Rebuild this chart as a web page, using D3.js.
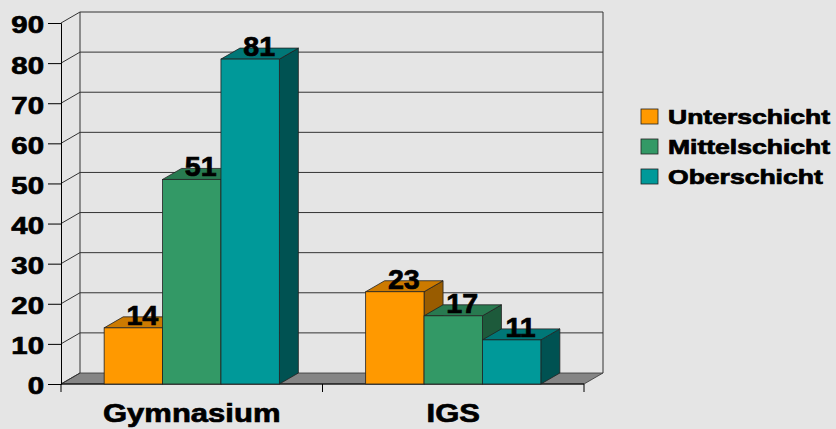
<!DOCTYPE html>
<html>
<head>
<meta charset="utf-8">
<script src="https://cdn.jsdelivr.net/npm/d3@7"></script>
<style>
  body { margin: 0; background: #e5e5e5; }
  svg { display: block; font-family: "Liberation Sans", Arial, sans-serif; font-weight: bold; }
  .heavy { stroke: #000; stroke-width: 0.7px; }
</style>
</head>
<body>
<svg id="chart" width="836" height="429"></svg>
<script>
// data
const schools = ["Gymnasium", "IGS"];
const classes = ["Unterschicht", "Mittelschicht", "Oberschicht"];
const unterschicht = [14, 23];
const mittelschicht = [51, 17];
const oberschicht = [81, 11];
const yTicks = [0, 10, 20, 30, 40, 50, 60, 70, 80, 90];

const seriesValues = [unterschicht, mittelschicht, oberschicht];
const faceColors = {
  Unterschicht: { front: "#ff9900", top: "#cc7a00", side: "#995c00" },
  Mittelschicht: { front: "#339966", top: "#287a50", side: "#1d5a3b" },
  Oberschicht: { front: "#009999", top: "#007777", side: "#005252" }
};

const svg = d3.select("#chart");
const dx = 19, dy = -11; // depth offset of the 3d box

const x = d3.scaleBand().domain(schools).range([61, 584]).paddingInner(0.33).paddingOuter(0.165);
const xs = d3.scaleBand().domain(classes).range([0, x.bandwidth()]);
const y = d3.scaleLinear().domain([0, 90]).range([384, 23]);

// stretch text horizontally like the original (wide bitmap font)
function stretch(sel, f) {
  sel.each(function () {
    const w = this.getComputedTextLength();
    d3.select(this).attr("textLength", w * f).attr("lengthAdjust", "spacingAndGlyphs");
  });
}

// floor
const x0 = x.range()[0], x1 = x.range()[1];
svg.append("polygon")
  .attr("points", [[x0, y(0)], [x1, y(0)], [x1 + dx, y(0) + dy], [x0 + dx, y(0) + dy]].join(" "))
  .attr("fill", "#858585").attr("stroke", "#333").attr("stroke-width", 0.8);

// back wall grid + left wall diagonals
const grid = svg.append("g").attr("stroke", "#333").attr("stroke-width", 1);
yTicks.forEach(t => {
  if (t > 0) {
    grid.append("line").attr("x1", x0 + dx).attr("x2", x1 + dx)
      .attr("y1", y(t) + dy).attr("y2", y(t) + dy);
  }
  grid.append("line").attr("x1", x0).attr("x2", x0 + dx)
    .attr("y1", y(t)).attr("y2", y(t) + dy);
});
grid.append("line").attr("x1", x0 + dx).attr("x2", x0 + dx).attr("y1", y(90) + dy).attr("y2", y(0) + dy);
grid.append("line").attr("x1", x1 + dx).attr("x2", x1 + dx).attr("y1", y(90) + dy).attr("y2", y(0) + dy);

// y axis
const yAxis = svg.append("g").attr("transform", `translate(${x0},0)`)
  .call(d3.axisLeft(y).tickValues(yTicks).tickSize(13).tickPadding(4));
yAxis.select(".domain").attr("stroke", "#000");
yAxis.selectAll(".tick line").attr("stroke", "#000");
yAxis.selectAll("text").attr("font-size", 23.5).attr("fill", "#000").classed("heavy", true)
  .attr("font-family", null).attr("dy", "0.38em").attr("y", 1);
stretch(yAxis.selectAll("text"), 1.25);

// x axis
svg.append("line").attr("x1", x0).attr("x2", x1).attr("y1", y(0)).attr("y2", y(0)).attr("stroke", "#000");
const bounds = [x0].concat(schools.map(s => x(s) + x.bandwidth() + x.step() * x.paddingInner() / 2));
bounds[bounds.length - 1] = x1;
svg.append("g").selectAll("line").data(bounds).join("line")
  .attr("x1", d => d).attr("x2", d => d).attr("y1", y(0)).attr("y2", y(0) + 8)
  .attr("stroke", "#000");
const xLabels = svg.append("g").selectAll("text").data(schools).join("text")
  .attr("x", d => x(d) + x.bandwidth() / 2)
  .attr("y", 422)
  .attr("text-anchor", "middle")
  .attr("font-size", 26.5)
  .classed("heavy", true)
  .text(d => d);
stretch(xLabels, 1.17);

// bars
const bars = [];
schools.forEach((s, i) => {
  classes.forEach((c, j) => bars.push({ school: s, cls: c, value: seriesValues[j][i] }));
});

const barG = svg.append("g").selectAll("g").data(bars).join("g");
barG.each(function (d) {
  const g = d3.select(this);
  const bx = x(d.school) + xs(d.cls), bw = xs.bandwidth();
  const top = y(d.value), base = y(0);
  const col = faceColors[d.cls];
  g.append("polygon")
    .attr("points", [[bx + bw, top], [bx + bw + dx, top + dy], [bx + bw + dx, base + dy], [bx + bw, base]].join(" "))
    .attr("fill", col.side).attr("stroke", "#222").attr("stroke-width", 0.8);
  g.append("polygon")
    .attr("points", [[bx, top], [bx + bw, top], [bx + bw + dx, top + dy], [bx + dx, top + dy]].join(" "))
    .attr("fill", col.top).attr("stroke", "#222").attr("stroke-width", 0.8);
  g.append("rect")
    .attr("x", bx).attr("y", top).attr("width", bw).attr("height", base - top)
    .attr("fill", col.front).attr("stroke", "#222").attr("stroke-width", 0.8);
});

// value labels
const valueLabels = svg.append("g").selectAll("text").data(bars).join("text")
  .attr("x", d => x(d.school) + xs(d.cls) + xs.bandwidth() / 2 + 9)
  .attr("y", d => y(d.value) - 3)
  .attr("text-anchor", "middle")
  .attr("font-size", 27)
  .attr("fill", "#000")
  .classed("heavy", true)
  .text(d => d.value);
stretch(valueLabels, 1.06);

// legend
const legend = svg.append("g").attr("transform", "translate(641,109)");
const item = legend.selectAll("g").data(classes).join("g")
  .attr("transform", (d, i) => `translate(0,${i * 30})`);
item.append("rect").attr("width", 17).attr("height", 15)
  .attr("fill", d => faceColors[d].front).attr("stroke", "#222").attr("stroke-width", 0.8);
const legendText = item.append("text").attr("x", 27).attr("y", 15)
  .attr("font-size", 19.5).attr("fill", "#000").classed("heavy", true).text(d => d);
stretch(legendText, 1.36);
</script>
</body>
</html>
